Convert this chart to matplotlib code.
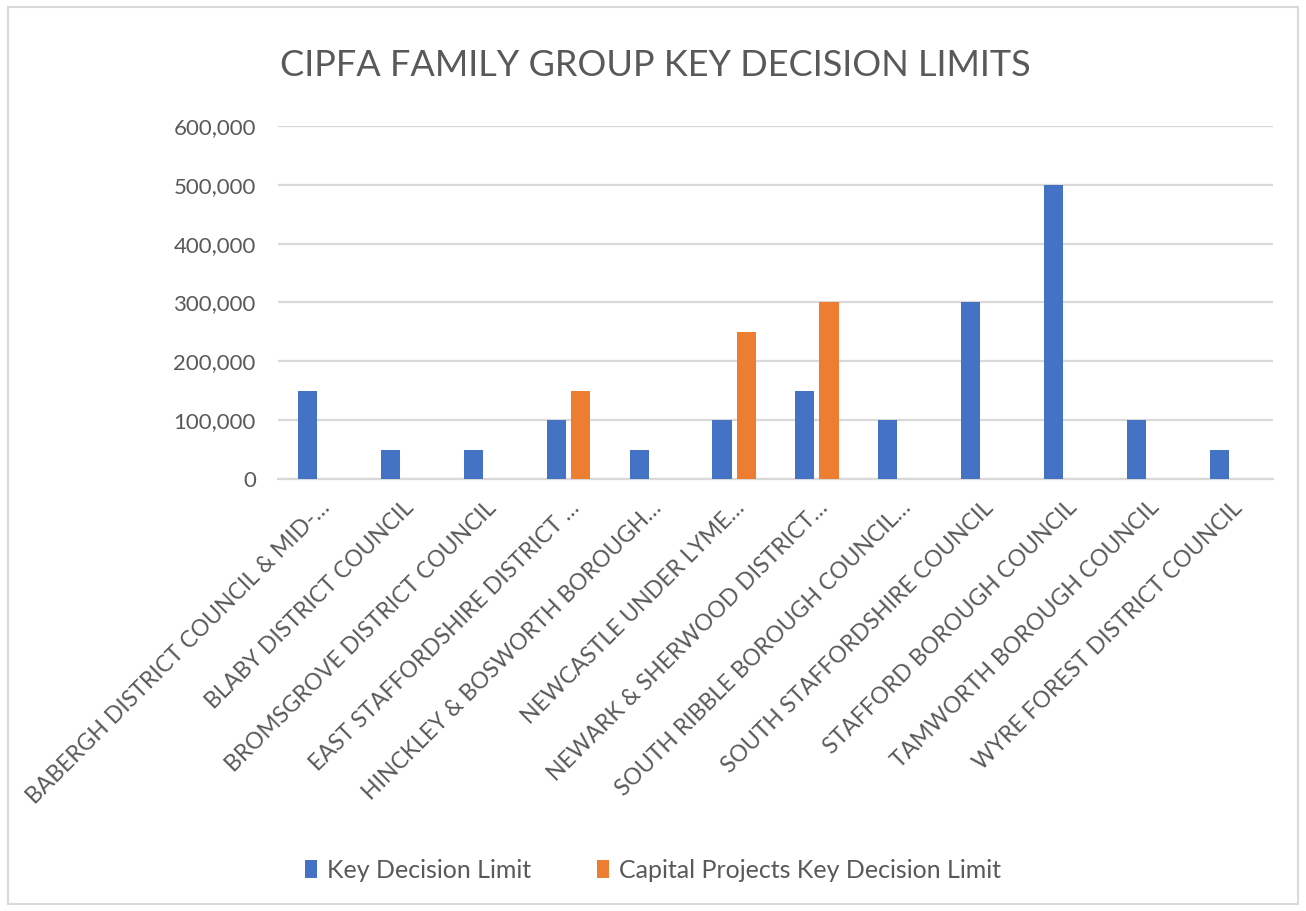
import numpy as np
import matplotlib.pyplot as plt
from matplotlib.patches import Rectangle
from matplotlib.ticker import FuncFormatter

plt.rcParams['font.family'] = ['Lato', 'DejaVu Sans']

# Data
councils = [
    'BABERGH DISTRICT COUNCIL & MID-…',
    'BLABY DISTRICT COUNCIL',
    'BROMSGROVE DISTRICT COUNCIL',
    'EAST STAFFORDSHIRE DISTRICT …',
    'HINCKLEY & BOSWORTH BOROUGH…',
    'NEWCASTLE UNDER LYME…',
    'NEWARK & SHERWOOD DISTRICT…',
    'SOUTH RIBBLE BOROUGH COUNCIL…',
    'SOUTH STAFFORDSHIRE COUNCIL',
    'STAFFORD BOROUGH COUNCIL',
    'TAMWORTH BOROUGH COUNCIL',
    'WYRE FOREST DISTRICT COUNCIL',
]
key_decision = [150000, 50000, 50000, 100000, 50000, 100000, 150000, 100000, 300000, 500000, 100000, 50000]
capital_projects = [0, 0, 0, 150000, 0, 250000, 300000, 0, 0, 0, 0, 0]
yticks = [0, 100000, 200000, 300000, 400000, 500000, 600000]

blue = '#4472C4'
orange = '#ED7D31'
grey_text = '#595959'
grid_col = '#D9D9D9'

fig = plt.figure(figsize=(13.06, 9.11), dpi=100)
ax = fig.add_axes([0.2129, 0.4742, 0.7618, 0.3875])

x = np.arange(len(councils))
w = 0.23
off = 0.145
ax.bar(x - off, key_decision, width=w, color=blue, label='Key Decision Limit', zorder=3)
ax.bar(x + off, capital_projects, width=w, color=orange,
       label='Capital Projects Key Decision Limit', zorder=3)

ax.set_xlim(-0.5, len(councils) - 0.5)
ax.set_ylim(0, 600000)
ax.set_yticks(yticks)
ax.yaxis.set_major_formatter(FuncFormatter(lambda v, p: f'{int(v):,}'))
ax.grid(axis='y', color=grid_col, linewidth=1.6, zorder=0)
for s in ['top', 'right', 'left']:
    ax.spines[s].set_visible(False)
ax.spines['bottom'].set_color(grid_col)
ax.spines['bottom'].set_linewidth(1.6)
ax.tick_params(axis='both', length=0, colors=grey_text)
ax.tick_params(axis='y', pad=16, labelsize=16)

ax.set_xticks(x)
ax.set_xticklabels(councils, rotation=45, ha='right', va='top',
                   rotation_mode='anchor', fontsize=16.5, color=grey_text)
ax.tick_params(axis='x', pad=13)

fig.text(0.502, 0.928, 'CIPFA FAMILY GROUP KEY DECISION LIMITS', ha='center', va='center',
         fontsize=26, color=grey_text)

leg = fig.legend(loc='center', bbox_to_anchor=(0.5, 0.045), ncol=2, frameon=False,
                 fontsize=18, handlelength=0.5, handleheight=0.7, columnspacing=2.6,
                 handletextpad=0.4)
for t in leg.get_texts():
    t.set_color(grey_text)

fig.patches.append(Rectangle((0.006, 0.008), 0.988, 0.984, transform=fig.transFigure,
                             fill=False, edgecolor=grid_col, linewidth=1.5))

fig.savefig('out.png', dpi=100)
